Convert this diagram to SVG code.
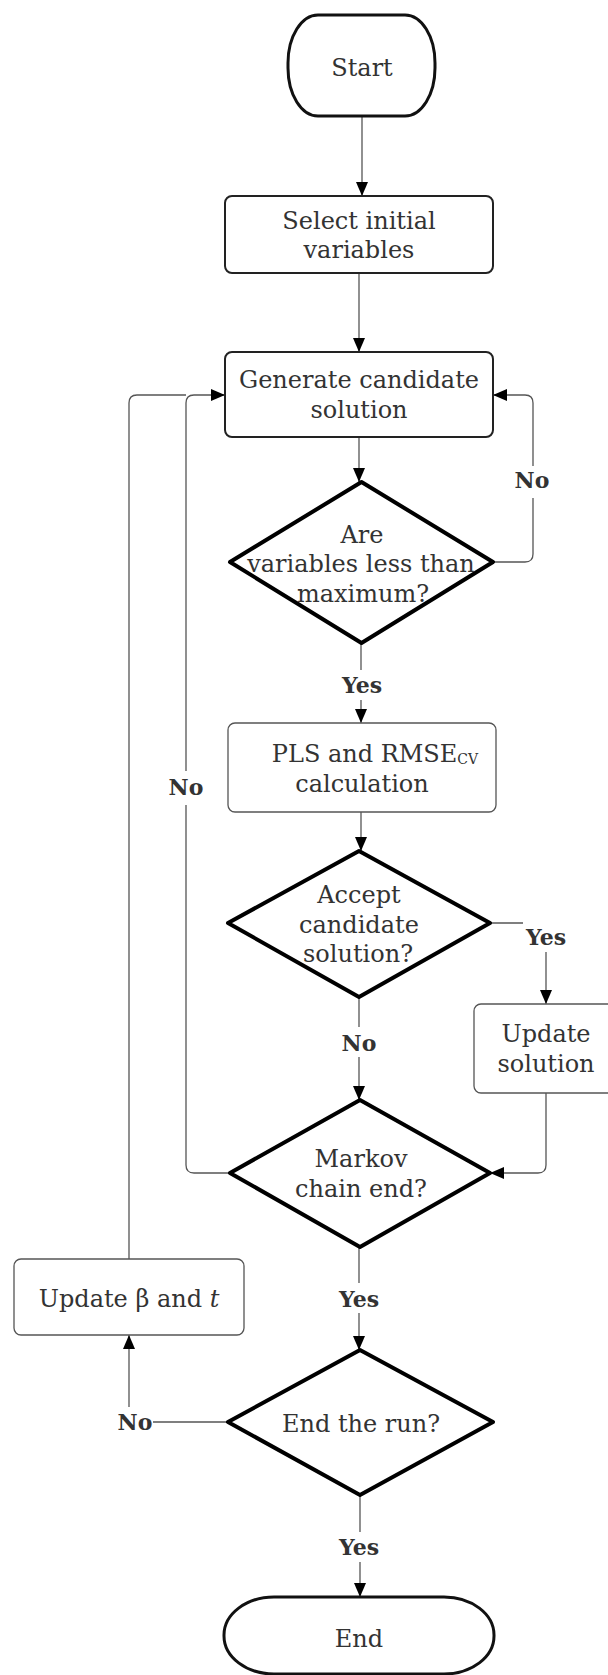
<svg xmlns="http://www.w3.org/2000/svg" width="608" height="1675" viewBox="0 0 608 1675">
<style>
  text { font-family: "DejaVu Serif", "Liberation Serif", serif; fill: #333; font-size: 24px; text-anchor: middle; }
  .lbl { font-weight: bold; font-size: 22px; }
  .term { fill: #fff; stroke: #111; stroke-width: 3; }
  .boxb { fill: #fff; stroke: #222; stroke-width: 2; }
  .boxt { fill: #fff; stroke: #555; stroke-width: 1.3; }
  .dia { fill: #fff; stroke: #000; stroke-width: 4; stroke-linejoin: round; }
  .con { fill: none; stroke: #555; stroke-width: 1.3; }
  .arr { marker-end: url(#ah); }
</style>
<defs>
  <marker id="ah" markerUnits="userSpaceOnUse" markerWidth="14" markerHeight="12" refX="14" refY="6" orient="auto" viewBox="0 0 14 12">
    <path d="M0,0 L14,6 L0,12 z" fill="#000"/>
  </marker>
</defs>
<rect width="608" height="1675" fill="#fff"/>

<g id="connectors">
  <path class="con arr" d="M362,116 V196"/>
  <path class="con arr" d="M359,273 V352"/>
  <path class="con arr" d="M359,437 V482"/>
  <path class="con" d="M493,562 H525 Q533,562 533,554 V498"/>
  <path class="con arr" d="M533,466 V403 Q533,395 525,395 H493"/>
  <path class="con" d="M361,643 V670"/>
  <path class="con arr" d="M361,700 V723"/>
  <path class="con arr" d="M361,812 V851"/>
  <path class="con" d="M490,923 H523"/>
  <path class="con arr" d="M546,952 V1004"/>
  <path class="con" d="M359,997 V1027"/>
  <path class="con arr" d="M359,1057 V1100"/>
  <path class="con arr" d="M546,1093 V1165 Q546,1173 538,1173 H490"/>
  <path class="con" d="M230,1173 H194 Q186,1173 186,1165 V805"/>
  <path class="con arr" d="M186,771 V403 Q186,395 194,395 H225"/>
  <path class="con" d="M129,1259 V403 Q129,395 137,395 H186"/>
  <path class="con" d="M359,1247 V1283"/>
  <path class="con arr" d="M359,1313 V1350"/>
  <path class="con" d="M228,1422 H153"/>
  <path class="con arr" d="M129,1407 V1335"/>
  <path class="con" d="M360,1495 V1532"/>
  <path class="con arr" d="M360,1562 V1597"/>
  <text class="lbl" x="532" y="488">No</text>
  <text class="lbl" x="362" y="693">Yes</text>
  <text class="lbl" x="546" y="945">Yes</text>
  <text class="lbl" x="359" y="1051">No</text>
  <text class="lbl" x="186" y="795">No</text>
  <text class="lbl" x="359" y="1307">Yes</text>
  <text class="lbl" x="135" y="1430">No</text>
  <text class="lbl" x="359" y="1555">Yes</text>
</g>

<g id="start">
  <rect class="term" x="288" y="15" width="147" height="101" rx="30" ry="48"/>
  <text x="362" y="76">Start</text>
</g>
<g id="select">
  <rect class="boxb" x="225" y="196" width="268" height="77" rx="7"/>
  <text x="359" y="229">Select initial</text>
  <text x="359" y="258">variables</text>
</g>
<g id="generate">
  <rect class="boxb" x="225" y="352" width="268" height="85" rx="7"/>
  <text x="359" y="388">Generate candidate</text>
  <text x="359" y="418">solution</text>
</g>
<g id="check-max">
  <polygon class="dia" points="361.5,482 493,562 361.5,643 230,562"/>
  <text x="362" y="543">Are</text>
  <text x="361" y="572">variables less than</text>
  <text x="363" y="602">maximum?</text>
</g>
<g id="pls">
  <rect class="boxt" x="228" y="723" width="268" height="89" rx="7"/>
  <text x="375" y="762">PLS and RMSE<tspan font-size="14" dy="2">CV</tspan></text>
  <text x="362" y="792">calculation</text>
</g>
<g id="accept">
  <polygon class="dia" points="359,851 490,923 359,997 228,923"/>
  <text x="359" y="903">Accept</text>
  <text x="359" y="933">candidate</text>
  <text x="358" y="962">solution?</text>
</g>
<g id="update-solution">
  <rect class="boxt" x="474" y="1004" width="146" height="89" rx="7"/>
  <text x="546" y="1042">Update</text>
  <text x="546" y="1072">solution</text>
</g>
<g id="markov">
  <polygon class="dia" points="360,1100 490,1173 360,1247 230,1173"/>
  <text x="361" y="1167">Markov</text>
  <text x="361" y="1197">chain end?</text>
</g>
<g id="update-beta">
  <rect class="boxt" x="14" y="1259" width="230" height="76" rx="7"/>
  <text x="129" y="1307">Update β and <tspan font-style="italic">t</tspan></text>
</g>
<g id="end-run">
  <polygon class="dia" points="360,1350 493,1422 360,1495 228,1422"/>
  <text x="361" y="1432">End the run?</text>
</g>
<g id="end">
  <rect class="term" x="224" y="1597" width="270" height="77" rx="50" ry="38"/>
  <text x="359" y="1647">End</text>
</g>
</svg>
